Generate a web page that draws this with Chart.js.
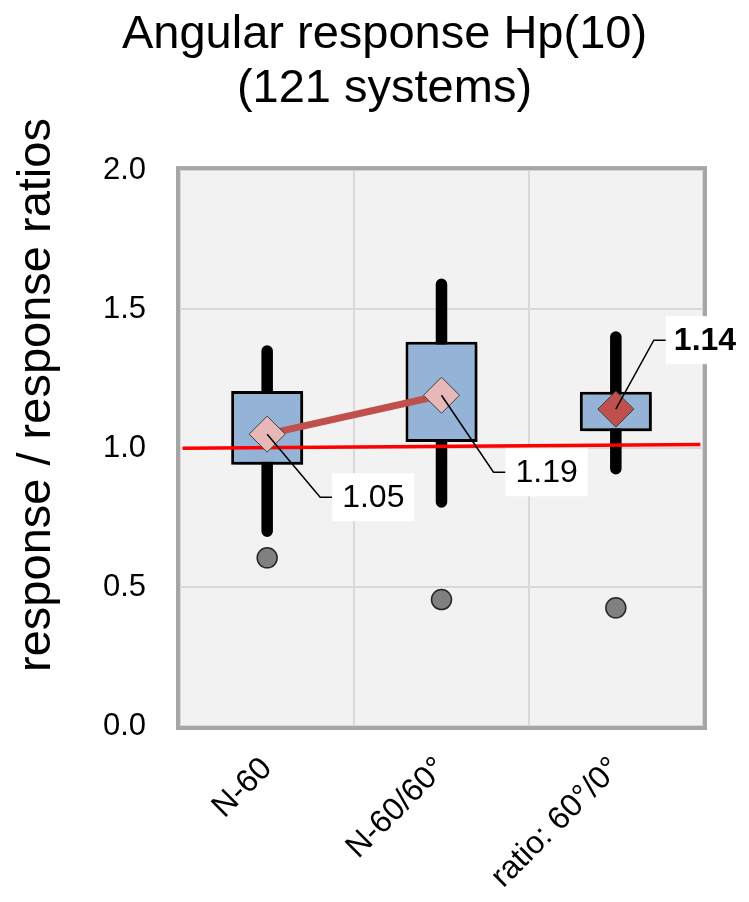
<!DOCTYPE html>
<html><head><meta charset="utf-8">
<script src="https://cdn.jsdelivr.net/npm/chart.js@4/dist/chart.umd.min.js"></script>
<style>html,body{margin:0;padding:0;background:#fff}#wrap{width:749px;height:902px;position:relative}</style>
</head><body><div id="wrap"><canvas id="c" width="749" height="902"></canvas></div>
<script>
// ---- data ----
const categories = ['N-60', 'N-60/60°', 'ratio: 60°/0°'];
const whiskerLow  = [0.68, 0.785, 0.905];
const whiskerHigh = [1.37, 1.61, 1.42];
const boxLow  = [0.94, 1.022, 1.06];
const boxHigh = [1.205, 1.382, 1.203];
const outliers = [0.605, 0.455, 0.425];
const meanValues = [1.05, 1.19, 1.14];
const meanLabels = ['1.05', '1.19', '1.14'];
const refLineX = [0.005, 0.995];
const refLineY = [0.999, 1.013];
const yTickMin = 0, yTickMax = 2, yTickStep = 0.5;
const titleLines = ['Angular response Hp(10)', '(121 systems)'];
const yAxisTitle = 'response / response ratios';

const FONT = "'Liberation Sans', Arial, Helvetica, sans-serif";

const decor = {
  id: 'decor',
  beforeDraw(chart) {
    const {ctx, chartArea: a} = chart;
    ctx.save();
    ctx.fillStyle = '#F2F2F2';
    ctx.fillRect(a.left, a.top, a.right - a.left, a.bottom - a.top);
    ctx.restore();
  },
  beforeDatasetsDraw(chart) {
    const {ctx, chartArea: a} = chart;
    ctx.save();
    ctx.strokeStyle = '#A6A6A6';
    ctx.lineWidth = 4;
    ctx.strokeRect(a.left - 2, a.top - 2, a.right - a.left + 4, a.bottom - a.top + 4);
    ctx.restore();
  },
  beforeDatasetDraw(chart, args) {
    if (chart.data.datasets[args.index].label === 'box') {
      const ctx = chart.ctx;
      ctx.save();
      ctx.shadowColor = 'rgba(0,0,0,0.45)';
      ctx.shadowOffsetX = 4;
      ctx.shadowOffsetY = 4;
      ctx.shadowBlur = 6;
    }
  },
  afterDatasetDraw(chart, args) {
    if (chart.data.datasets[args.index].label === 'box') chart.ctx.restore();
  },
  afterDatasetsDraw(chart) {
    const {ctx, scales} = chart;
    const offs = [{bx: 53, by: 63}, {bx: 52, by: 77}, {bx: 38, by: -69}];
    ctx.save();
    meanValues.forEach((v, i) => {
      const px = scales.x.getPixelForValue(i);
      const py = scales.y.getPixelForValue(v);
      const o = offs[i];
      const bold = i === 2;
      ctx.font = (bold ? 'bold ' : '') + '32px ' + FONT;
      const tw = ctx.measureText(meanLabels[i]).width;
      const bx0 = px + o.bx + 12, cy = py + o.by;
      ctx.strokeStyle = '#000';
      ctx.lineWidth = 1.5;
      ctx.beginPath();
      ctx.moveTo(px, py);
      ctx.lineTo(px + o.bx, cy);
      ctx.lineTo(bx0, cy);
      ctx.stroke();
      ctx.fillStyle = '#FFFFFF';
      ctx.fillRect(bx0, cy - 24, tw + (bold ? 16 : 20), 48);
      ctx.fillStyle = '#000';
      ctx.textAlign = 'left';
      ctx.textBaseline = 'middle';
      ctx.fillText(meanLabels[i], bx0 + (bold ? 8 : 10), cy + 1);
    });
    ctx.restore();
  },
  afterDraw(chart) {
    const ctx = chart.ctx;
    ctx.save();
    ctx.translate(50, 395);
    ctx.rotate(-Math.PI / 2);
    ctx.font = '47px ' + FONT;
    ctx.fillStyle = '#000';
    ctx.textAlign = 'center';
    ctx.textBaseline = 'alphabetic';
    ctx.fillText(yAxisTitle, 0, 0);
    ctx.restore();
  }
};

new Chart(document.getElementById('c'), {
  type: 'bar',
  data: {
    labels: categories,
    datasets: [
      {
        label: 'outliers', type: 'line', data: outliers, showLine: false, order: 1,
        pointStyle: 'circle', pointRadius: 10, pointBackgroundColor: '#808080',
        pointBorderColor: '#262626', pointBorderWidth: 1.5
      },
      {
        label: 'mean ratio', type: 'line', data: meanValues.map((v, i) => i === 2 ? v : null), showLine: false, order: 1,
        pointStyle: 'rectRot', pointRadius: 18, pointBackgroundColor: '#C0504D',
        pointBorderColor: '#404040', pointBorderWidth: 1
      },
      {
        label: 'mean', type: 'line', data: meanValues.map((v, i) => i < 2 ? v : null), order: 2,
        borderColor: '#C0504D', borderWidth: 7, spanGaps: false,
        pointStyle: 'rectRot', pointRadius: 18, pointBackgroundColor: '#E6B9B8',
        pointBorderColor: '#404040', pointBorderWidth: 1
      },
      {
        label: 'reference', type: 'line', xAxisID: 'x2', order: 3,
        data: refLineX.map((x, i) => ({x: x, y: refLineY[i]})),
        borderColor: '#FF0000', borderWidth: 3.5, pointRadius: 0
      },
      {
        label: 'box', data: boxLow.map((v, i) => [v, boxHigh[i]]), order: 4,
        grouped: false, barPercentage: 0.413, categoryPercentage: 1,
        backgroundColor: '#95B3D7', borderColor: '#000', borderWidth: 3, borderSkipped: false
      },
      {
        label: 'whisker', data: whiskerLow.map((v, i) => [v, whiskerHigh[i]]), order: 5,
        grouped: false, barPercentage: 0.066, categoryPercentage: 1,
        backgroundColor: '#000', borderWidth: 0, borderRadius: 6, borderSkipped: false
      }
    ]
  },
  options: {
    responsive: false,
    animation: false,
    layout: {padding: {top: 0, left: 66, right: 46, bottom: 0}},
    plugins: {
      legend: {display: false},
      tooltip: {enabled: false},
      title: {
        display: true, text: titleLines, color: '#000',
        font: {family: FONT, size: 47, weight: 'normal', lineHeight: 1.15},
        padding: {top: 8, bottom: 54}
      }
    },
    scales: {
      x: {
        type: 'category', offset: true,
        grid: {offset: true, color: '#D9D9D9', lineWidth: 2, drawTicks: false},
        border: {display: false},
        ticks: {color: '#000', font: {family: FONT, size: 32}, minRotation: 45, maxRotation: 45, padding: 24},
        afterFit(s) { s.height = 176; }
      },
      x2: {type: 'linear', min: 0, max: 1, offset: false, display: false},
      y: {
        min: yTickMin, max: yTickMax,
        grid: {color: '#D9D9D9', lineWidth: 2, drawTicks: false},
        border: {display: false},
        ticks: {stepSize: yTickStep, color: '#000', font: {family: FONT, size: 31}, padding: 34,
          callback: v => Number(v).toFixed(1)},
        afterFit(s) { s.width = 114; }
      }
    }
  },
  plugins: [decor]
});
</script></body></html>
